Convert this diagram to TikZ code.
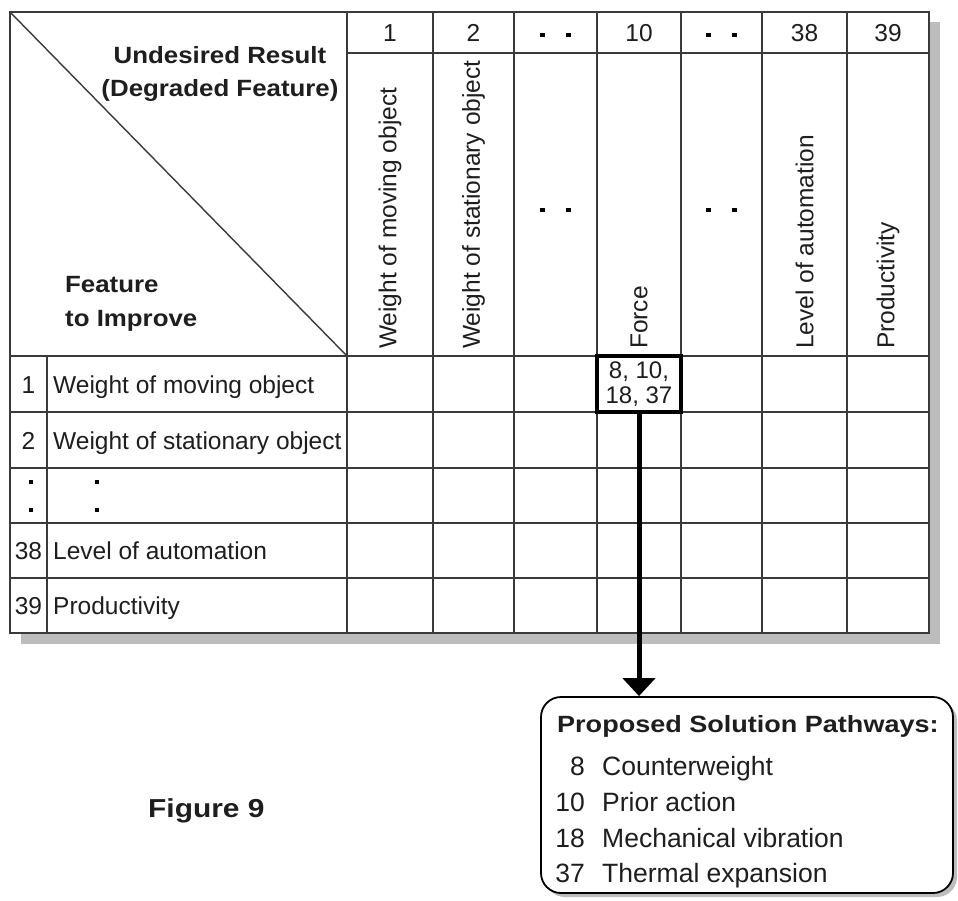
\documentclass[tikz,border=0pt]{standalone}
\usepackage{fontspec}
\setmainfont{Liberation Sans}
\newfontfamily\widesans{Liberation Sans}[FakeStretch=1.1]
\newfontfamily\widersans{Liberation Sans}[FakeStretch=1.15]
\usetikzlibrary{arrows.meta}

\definecolor{ink}{HTML}{1E1E1E}
\definecolor{rule}{HTML}{3A3A3A}
\definecolor{shadowgray}{HTML}{BDBDBD}

\newcommand\tabfont{\fontsize{24.5}{25}\selectfont}
\newcommand\cellfont{\fontsize{24}{25}\selectfont}
\newcommand\headfont{\widesans\bfseries\fontsize{23.5}{33}\selectfont}
\newcommand\titlefont{\widersans\bfseries\fontsize{23.5}{33}\selectfont}
\newcommand\listfont{\fontsize{26.5}{30}\selectfont}

\begin{document}
\begin{tikzpicture}[x=1pt, y=-1pt,
  gridline/.style={draw=rule, line width=1.4pt},
  tabtext/.style={text=ink, font=\tabfont, inner sep=0pt},
  coltext/.style={tabtext, rotate=90, anchor=west},
  numtext/.style={tabtext, anchor=base},
  rowtext/.style={tabtext, anchor=base west},
  rownum/.style={tabtext, anchor=base},
  headtext/.style={text=ink, font=\headfont, inner sep=0pt},
  listtext/.style={text=ink, font=\listfont, inner sep=0pt},
  dotmark/.style={fill=black, minimum size=4.5pt, inner sep=0pt, draw=none},
  hlcell/.style={draw=black, line width=3.6pt, fill=white, minimum width=84pt,
                 minimum height=56pt, inner sep=0pt, align=center, text=ink, font=\cellfont},
  pathbox/.style={draw=black, line width=1.8pt, fill=white, rounded corners=20pt,
                  minimum width=412pt, minimum height=196pt, inner sep=0pt},
  bigarrow/.style={line width=5pt, draw=black, -{Triangle[width=32pt,length=18pt]}}
]
\useasboundingbox (0,0) rectangle (958,901);

% table with drop shadow
\fill[shadowgray] (21,22) rectangle (940,644);
\fill[white] (10,12) rectangle (929,633);

% grid
\draw[gridline] (10,12) rectangle (929,633);
\foreach \x in {347,433,514,597,681,762,847}
  \draw[gridline] (\x,12) -- (\x,633);
\draw[gridline] (47,356) -- (47,633);
\draw[gridline] (347,53) -- (929,53);
\foreach \y in {356,412,468,523,578}
  \draw[gridline] (10,\y) -- (929,\y);
\draw[gridline] (10,12) -- (347,356);

% corner headings
\node[headtext, anchor=base] (undes) at (220,64) {Undesired Result};
\node[headtext, anchor=base] (degr)  at (220,97) {(Degraded Feature)};
\node[headtext, anchor=base west] (feat) at (65,293) {Feature};
\node[headtext, anchor=base west] (impr) at (65,326) {to Improve};

% column numbers
\node[numtext] (n1)  at (390,42)   {1};
\node[numtext] (n2)  at (473.5,42) {2};
\node[numtext] (n10) at (639,42)   {10};
\node[numtext] (n38) at (804.5,42) {38};
\node[numtext] (n39) at (888,42)   {39};

% column headings
\node[coltext] (c1)  at (390,349)   {Weight of moving object};
\node[coltext] (c2)  at (473.5,349) {Weight of stationary object};
\node[coltext] (c10) at (639,349)   {Force};
\node[coltext] (c38) at (804.5,349) {Level of automation};
\node[coltext] (c39) at (888,349)   {Productivity};

% elision dots in the header
\foreach \cx/\nm in {555.5/a,721.5/b}{
  \node[dotmark] (top\nm l) at (\cx-13,35) {};
  \node[dotmark] (top\nm r) at (\cx+13,35) {};
  \node[dotmark] (mid\nm l) at (\cx-13,210) {};
  \node[dotmark] (mid\nm r) at (\cx+13,210) {};
}

% row headings
\node[rownum] (r1n)  at (28.5,393)   {1};
\node[rowtext] (r1)  at (53,393)     {Weight of moving object};
\node[rownum] (r2n)  at (28.5,449)   {2};
\node[rowtext] (r2)  at (53,449)     {Weight of stationary object};
\node[rownum] (r38n) at (28.5,559.5) {38};
\node[rowtext] (r38) at (53,559.5)   {Level of automation};
\node[rownum] (r39n) at (28.5,614.5) {39};
\node[rowtext] (r39) at (53,614.5)   {Productivity};

% elision dots in the row headings
\node[dotmark] (rdot1) at (31,482) {};
\node[dotmark] (rdot2) at (31,510) {};
\node[dotmark] (rdot3) at (97,482) {};
\node[dotmark] (rdot4) at (97,510) {};

% highlighted cell
\node[hlcell] (hl) at (639,384) {8, 10,\\18, 37};

% proposed solutions box with shadow
\fill[shadowgray, rounded corners=20pt] (545,701) rectangle (957,897);
\node[pathbox] (sol) at (747,795) {};

\draw[bigarrow] (hl.south) -- (hl.south |- sol.north);

\node[headtext, font=\titlefont, anchor=base west] (soltitle) at (557,732) {Proposed Solution Pathways:};
\node[listtext, anchor=base east] (k8)  at (585,775) {8};
\node[listtext, anchor=base west] (t8)  at (602,775) {Counterweight};
\node[listtext, anchor=base east] (k10) at (585,811) {10};
\node[listtext, anchor=base west] (t10) at (602,811) {Prior action};
\node[listtext, anchor=base east] (k18) at (585,847) {18};
\node[listtext, anchor=base west] (t18) at (602,847) {Mechanical vibration};
\node[listtext, anchor=base east] (k37) at (585,882) {37};
\node[listtext, anchor=base west] (t37) at (602,882) {Thermal expansion};

% figure caption
\node[headtext, font=\widersans\bfseries\fontsize{26}{30}\selectfont, anchor=base west] (fig) at (148,817) {Figure 9};
\end{tikzpicture}
\end{document}
